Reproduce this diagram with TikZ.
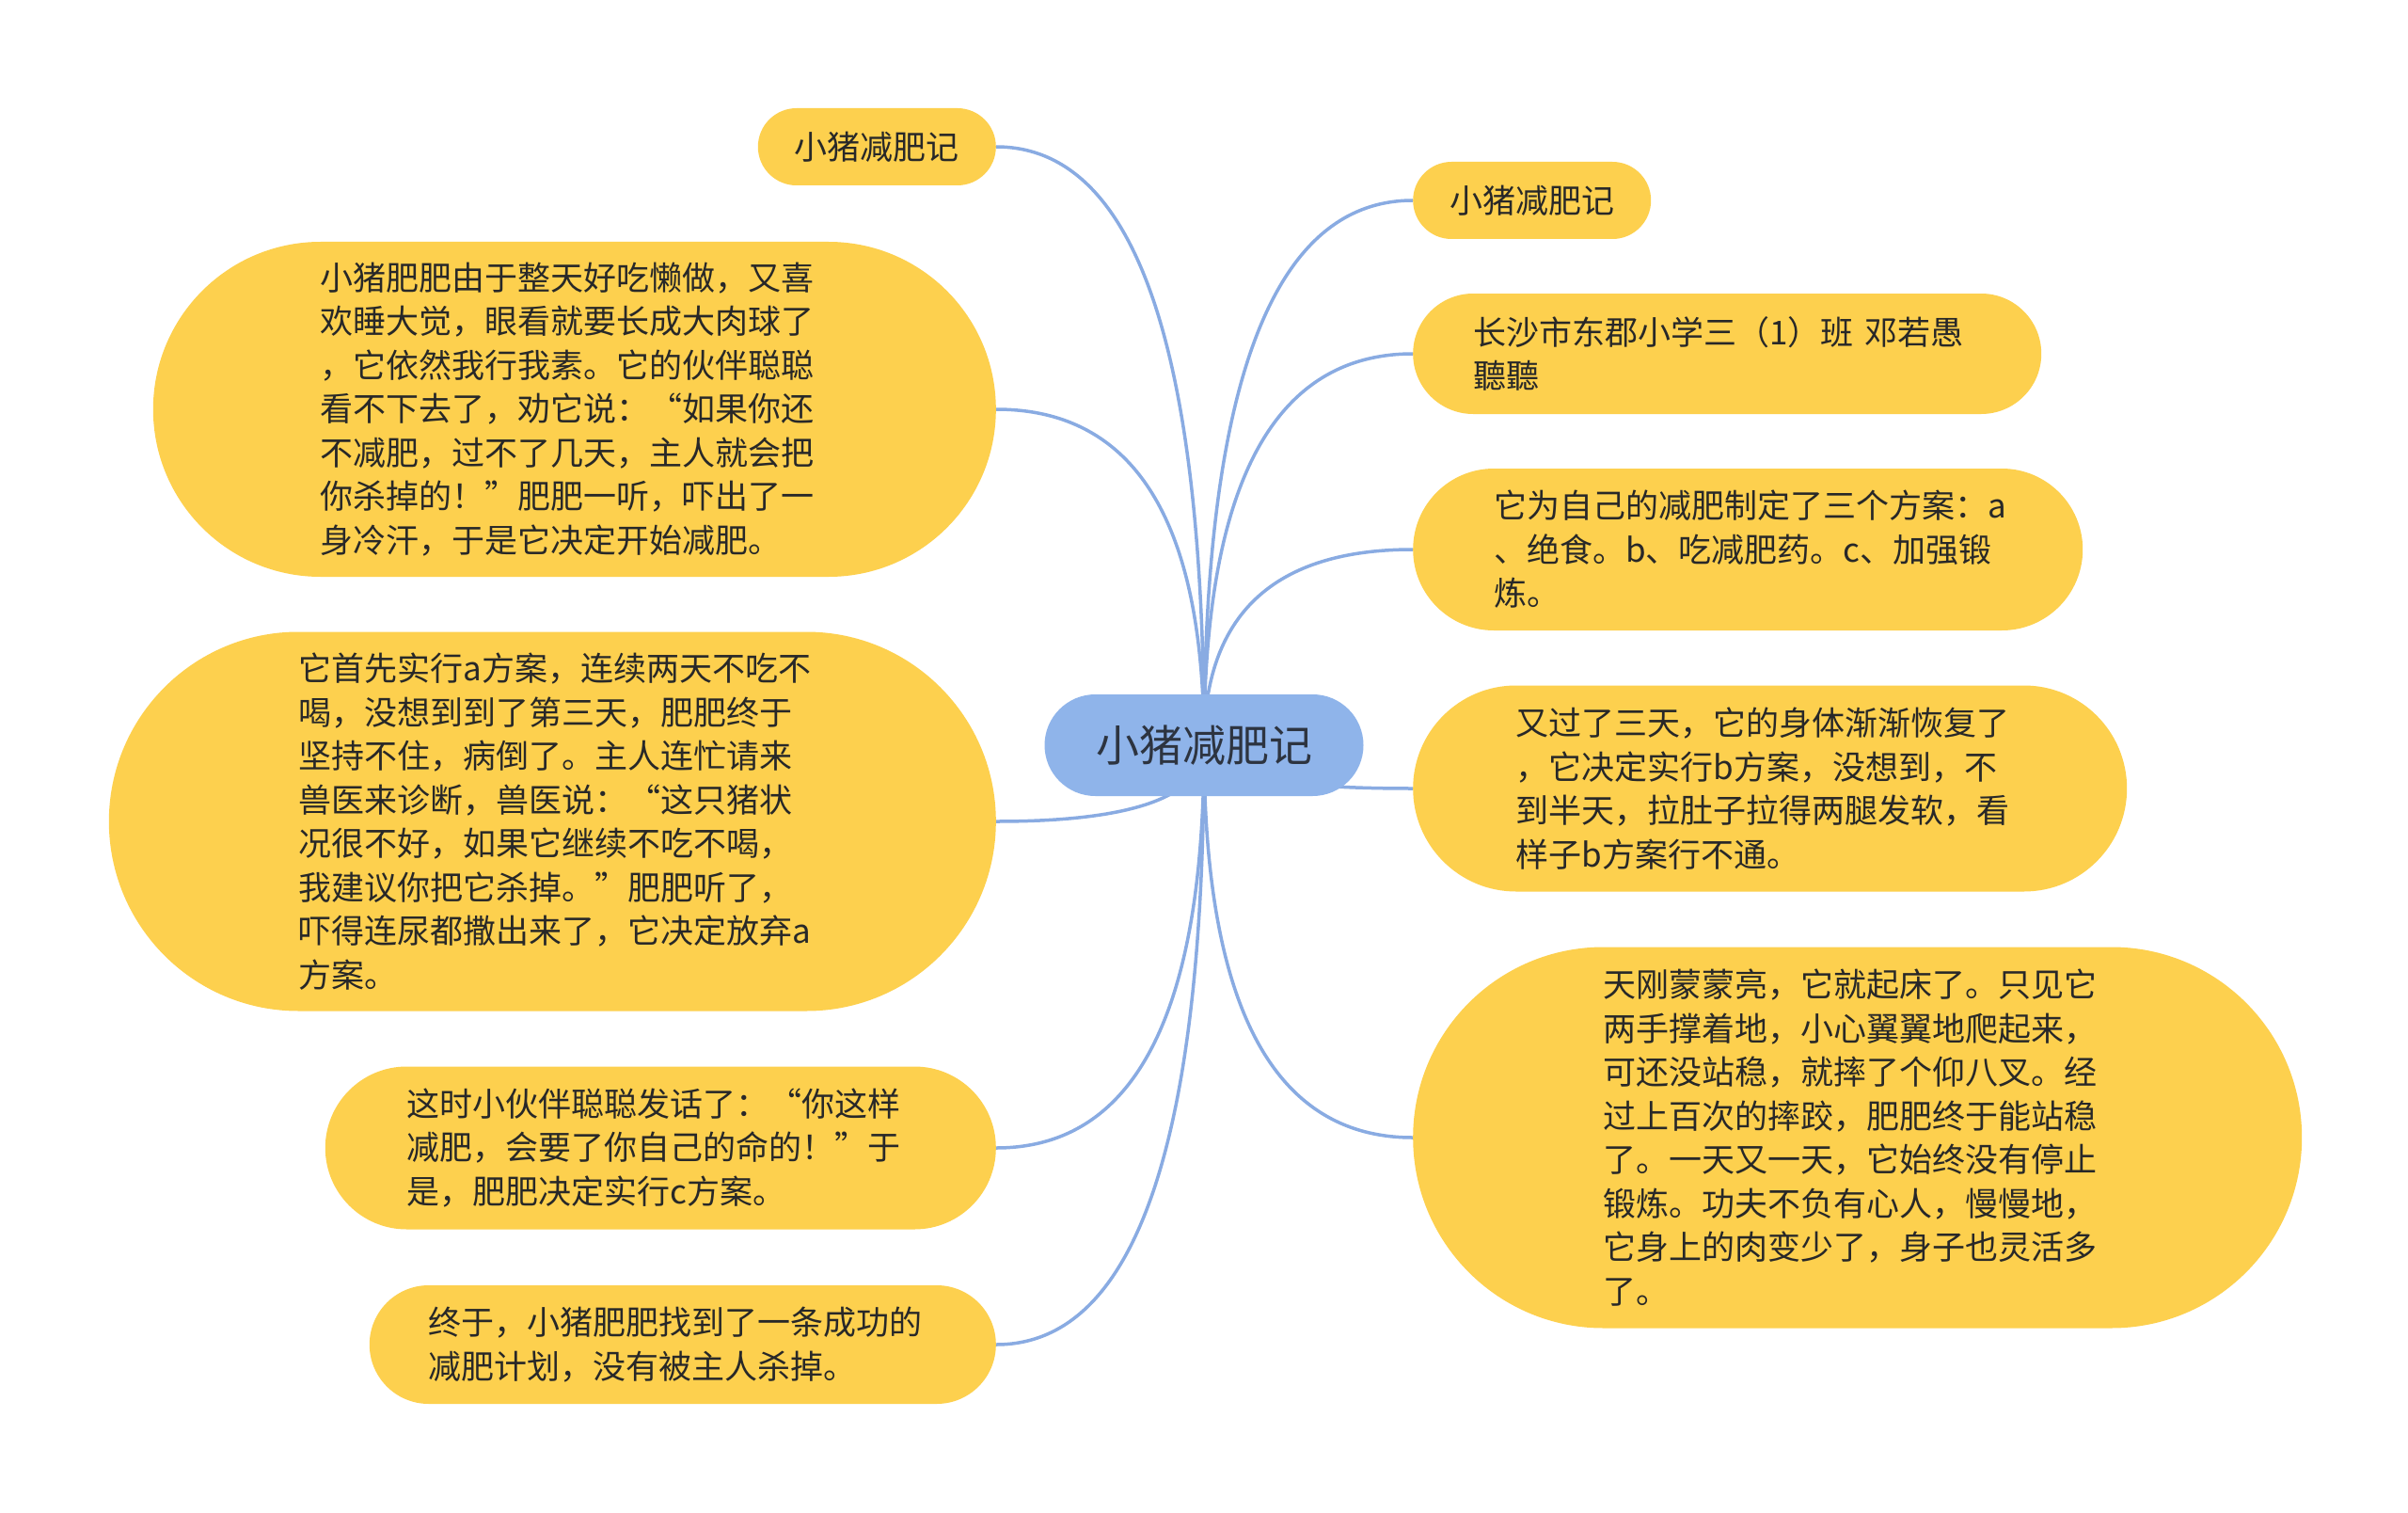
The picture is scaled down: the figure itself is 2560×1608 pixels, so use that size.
\documentclass[tikz,border=0pt]{standalone}
\usepackage{fontspec}
\setmainfont{Noto Sans CJK SC}
\usepackage{xcolor}
\usepackage{tikz}
\usetikzlibrary{backgrounds,calc}
\definecolor{leafyellow}{RGB}{253,208,78}
\definecolor{rootblue}{RGB}{143,180,234}
\definecolor{branchblue}{RGB}{137,171,226}
\definecolor{inktext}{RGB}{40,40,40}
\definecolor{roottext}{RGB}{45,52,64}
\newcommand{\leaffont}{\fontsize{35pt}{46.5pt}\selectfont}
\newcommand{\rootfont}{\fontsize{46pt}{55pt}\selectfont}
\tikzset{
	central/.style={fill=rootblue, text=roottext, font=\rootfont, inner sep=0pt,
		minimum width=339pt, minimum height=108pt, rounded corners=54pt},
	title/.style={fill=leafyellow, text=inktext, font=\leaffont, inner sep=0pt,
		minimum width=253pt, minimum height=82pt, rounded corners=41pt},
	leaf/.style={fill=leafyellow, text=inktext, font=\leaffont, align=left, text width=540pt, inner ysep=0pt},
	pill/.style={minimum height=#1*1pt, inner xsep=#1*0.5pt, rounded corners=#1*0.5pt},
	branch/.style={draw=branchblue, line width=3.5pt}
}
\newcommand{\connectbranch}[2]{
	\draw[branch] (#1.center) .. controls ($(#1.center)!.667!(#1.center |- #2)$) and ($(#2)!.667!(#1.center |- #2)$) .. (#2);
}

\begin{document}
\begin{tikzpicture}[x=1pt, y=-1pt]
		\node[central] (root) at (1280,792) {小猪减肥记};
		
		% left side
		\node[title, anchor=east] (left-title) at (1059,156) {小猪减肥记};
		\node[leaf, pill=356, anchor=east] (left-story-1) at (1059,435) {小猪肥肥由于整天好吃懒做，又喜\\欢睡大觉，眼看就要长成大肉球了\\，它依然我行我素。它的伙伴聪聪\\看不下去了，劝它说：“如果你还\\不减肥，过不了几天，主人就会把\\你杀掉的！”肥肥一听，吓出了一\\身冷汗，于是它决定开始减肥。};
		\node[leaf, pill=403, anchor=east] (left-story-2) at (1059,873) {它首先实行a方案，连续两天不吃不\\喝，没想到到了第三天，肥肥终于\\坚持不住，病倒了。主人连忙请来\\兽医来诊断，兽医说：“这只猪状\\况很不好，如果它继续不吃不喝，\\我建议你把它杀掉。”肥肥听了，\\吓得连尿都撒出来了，它决定放弃a\\方案。};
		\node[leaf, pill=173, anchor=east] (left-story-3) at (1059,1220) {这时小伙伴聪聪发话了：“你这样\\减肥，会要了你自己的命的！”于\\是，肥肥决定实行c方案。};
		\node[leaf, pill=126, anchor=east] (left-story-4) at (1059,1429) {终于，小猪肥肥找到了一条成功的\\减肥计划，没有被主人杀掉。};
		
		% right side
		\node[title, anchor=west] (right-title) at (1502,213) {小猪减肥记};
		\node[leaf, pill=128, anchor=west] (right-author) at (1502,376) {长沙市东郡小学三（1）班 邓若愚\\聽聽};
		\node[leaf, pill=172, anchor=west] (right-plan) at (1502,584) {它为自己的减肥制定了三个方案：a\\、绝食。b、吃减肥药。c、加强锻\\炼。};
		\node[leaf, pill=219, anchor=west] (right-story-1) at (1502,838) {又过了三天，它的身体渐渐恢复了\\，它决定实行b方案，没想到，不\\到半天，拉肚子拉得两腿发软，看\\样子b方案行不通。};
		\node[leaf, pill=405, anchor=west] (right-story-2) at (1502,1209) {天刚蒙蒙亮，它就起床了。只见它\\两手撑着地，小心翼翼地爬起来，\\可还没站稳，就摔了个仰八叉。经\\过上百次的摔跤，肥肥终于能站稳\\了。一天又一天，它始终没有停止\\锻炼。功夫不负有心人，慢慢地，\\它身上的肉变少了，身子也灵活多\\了。};
		
		\begin{pgfonlayer}{background}
			\fill[white] (0,0) rectangle (2560,1608);
			\connectbranch{root}{left-title.east};
			\connectbranch{root}{left-story-1.east};
			\connectbranch{root}{left-story-2.east};
			\connectbranch{root}{left-story-3.east};
			\connectbranch{root}{left-story-4.east};
			\connectbranch{root}{right-title.west};
			\connectbranch{root}{right-author.west};
			\connectbranch{root}{right-plan.west};
			\connectbranch{root}{right-story-1.west};
			\connectbranch{root}{right-story-2.west};
		\end{pgfonlayer}
		
		\useasboundingbox (0,0) rectangle (2560,1608);
\end{tikzpicture}
\end{document}
